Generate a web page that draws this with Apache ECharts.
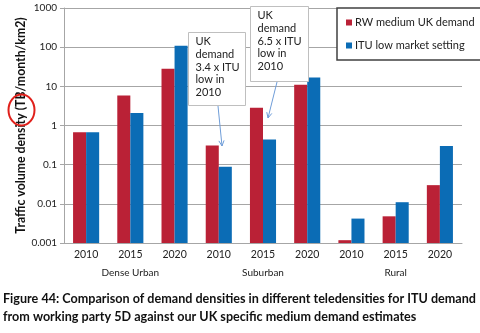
<!DOCTYPE html>
<html><head><meta charset="utf-8">
<script src="https://cdn.jsdelivr.net/npm/echarts@6/dist/echarts.min.js"></script>
<style>html,body{margin:0;padding:0;background:#fff}#c{width:480px;height:333px}</style>
</head><body><div id="c"></div>
<script>
var years = ['2010','2015','2020','2010','2015','2020','2010','2015','2020'];
var groups = ['Dense Urban','Suburban','Rural'];
var rwMedium = [0.67, 5.8, 28, 0.31, 2.85, 11, 0.00118, 0.0048, 0.030];
var ituLow = [0.67, 2.07, 108, 0.089, 0.44, 16.7, 0.0042, 0.011, 0.30];
var seriesNames = ['RW medium UK demand', 'ITU low market setting'];
var yTickLabels = ['0.001','0.01','0.1','1','10','100','1000'];
var yTitle = 'Traffic volume density (TB/month/km2)';
var caption1 = 'Figure 44: Comparison of demand densities in different teledensities for ITU demand';
var caption2 = 'from working party 5D against our UK specific medium demand estimates';
var note1 = 'UK\ndemand\n3.4 x ITU\nlow in\n2010';
var note2 = 'UK\ndemand\n6.5 x ITU\nlow in\n2010';

// log axis floor: 0.001 (bars grow from the axis minimum, as in the original)
var LOG_MIN = Math.log10(+yTickLabels[0]);
function toAxis(v){ return Math.log10(v) - LOG_MIN; }

var FONT = 'Lato,"Open Sans",sans-serif';
var chart = echarts.init(document.getElementById('c'));
var axisGray = '#A6A6A6';

var cv = document.createElement('canvas').getContext('2d');
function fitScale(txt, font, width){ cv.font = font; return width / cv.measureText(txt).width; }

function arrow(x1,y1,x2,y2){
  var a = Math.atan2(y2-y1,x2-x1), L=6, w=0.45;
  return [
    {type:'line',shape:{x1:x1,y1:y1,x2:x2,y2:y2},style:{stroke:'#6F9DD8',lineWidth:1},z:20},
    {type:'polyline',shape:{points:[[x2-L*Math.cos(a-w),y2-L*Math.sin(a-w)],[x2,y2],[x2-L*Math.cos(a+w),y2-L*Math.sin(a+w)]]},style:{stroke:'#6F9DD8',lineWidth:1,fill:null},z:20}
  ];
}
function box(x,y,w,h,txt){
  return [
    {type:'rect',shape:{x:x,y:y,width:w,height:h},style:{fill:'#fff',stroke:'#BFBFBF',lineWidth:1},z:15},
    {type:'text',x:x+7,y:y+3,style:{text:txt,font:'11px '+FONT,fill:'#222',lineHeight:12.7},z:16}
  ];
}
var g = [];
g = g.concat(box(188.5,32.5,57,73,note1), box(250.5,6.5,58,75,note2));
g = g.concat(arrow(218,106,222,146), arrow(277,82,268,118));
g.push({type:'ellipse',shape:{cx:21.5,cy:110,rx:13,ry:15.5},style:{fill:null,stroke:'#E0201B',lineWidth:2},z:20});
var capFont = 'bold 12.5px '+FONT;
var s1 = fitScale(caption1, capFont, 473);
g.push({type:'text',x:3,y:292,scaleX:s1,style:{text:caption1,font:capFont,fill:'#111'},z:20});
g.push({type:'text',x:3,y:310,scaleX:s1,style:{text:caption2,font:capFont,fill:'#111'},z:20});

chart.setOption({
  animation:false,
  grid:{left:64,right:18,top:8,bottom:90},
  legend:{orient:'vertical',left:337,top:8,itemWidth:6,itemHeight:6,itemGap:12,
    icon:'rect',padding:[9,8,9,9],borderColor:'#404040',borderWidth:1.5,backgroundColor:'#fff',
    textStyle:{fontFamily:FONT,fontSize:11,color:'#222',padding:[0,0,0,-2]},z:20,
    data:seriesNames},
  xAxis:[
    {type:'category',data:years,position:'bottom',
     axisLine:{lineStyle:{color:axisGray}},
     axisTick:{length:17,lineStyle:{color:axisGray}},
     axisLabel:{fontFamily:FONT,fontSize:10.5,color:'#222',margin:6}},
    {type:'category',data:groups,position:'bottom',
     axisLine:{show:false},
     axisTick:{length:35,lineStyle:{color:axisGray}},
     axisLabel:{fontFamily:FONT,fontSize:10,color:'#222',margin:25}}
  ],
  yAxis:{type:'value',min:0,max:yTickLabels.length-1,interval:1,
    name:yTitle,nameLocation:'middle',nameGap:37,nameMoveOverlap:false,
    nameTextStyle:{fontFamily:FONT,fontSize:12.3,fontWeight:'bold',color:'#111'},
    axisLine:{show:true,lineStyle:{color:axisGray}},
    axisTick:{show:true,length:4,lineStyle:{color:axisGray}},
    splitLine:{lineStyle:{color:axisGray}},
    axisLabel:{fontFamily:FONT,fontSize:10,color:'#222',margin:7,
      formatter:function(v){return yTickLabels[Math.round(v)];}}},
  series:[
    {name:seriesNames[0],type:'bar',data:rwMedium.map(toAxis),itemStyle:{color:'#BA2136'},barGap:'0%',barCategoryGap:'41%'},
    {name:seriesNames[1],type:'bar',data:ituLow.map(toAxis),itemStyle:{color:'#0B6CB5'}}
  ],
  graphic:g
});
</script></body></html>
